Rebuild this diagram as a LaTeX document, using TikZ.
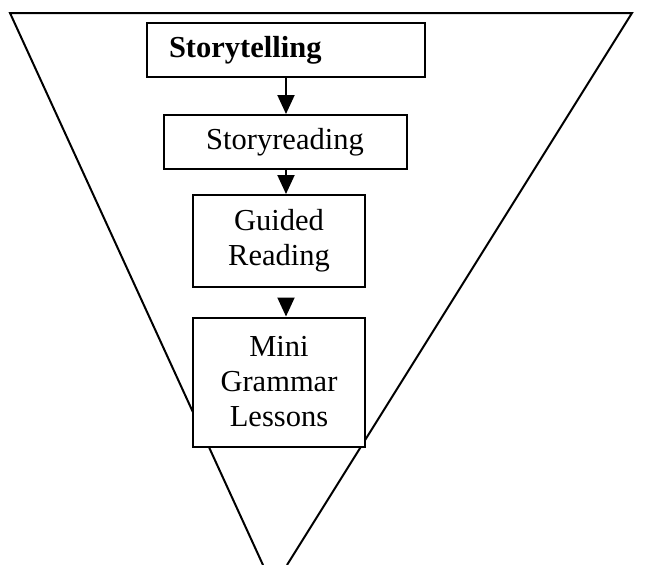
\documentclass[tikz,border=0pt]{standalone}
\usepackage{fontspec}
\setmainfont{Liberation Serif}
\usetikzlibrary{arrows.meta}

\begin{document}
\begin{tikzpicture}[x=1pt, y=-1pt,
    stage/.style={draw, line width=2pt, fill=white, align=center, inner sep=0pt,
        font=\fontsize{30.5}{35}\selectfont},
    flow/.style={line width=2pt, -{Triangle[width=17pt,length=19pt]}}]
    \useasboundingbox (0,0) rectangle (665,565);

    % The funnel (tip runs off the page)
    \draw[line width=2pt] (263,565) -- (10,13) -- (632,13) -- (287,565);

    % The stages
    \node[stage, minimum width=278pt, minimum height=54pt, text width=256pt, align=left]
        (tell) at (286,50) {\hspace*{11pt}\bfseries Storytelling};
    \node[stage, minimum width=243pt, minimum height=54pt] (read) at (285,142) {Storyreading};
    \node[stage, minimum width=172pt, minimum height=92pt] (guide) at (279,241) {Guided\\Reading};
    \node[stage, minimum width=172pt, minimum height=129pt] (mini) at (279,382) {Mini\\Grammar\\Lessons};

    % Arrows between stages
    \coordinate (ax) at (286,0);
    \draw[flow] (tell.south -| ax) -- (read.north -| ax);
    \draw[flow] (read.south -| ax) -- (guide.north -| ax);
    \draw[flow, shorten <=10pt] (guide.south -| ax) -- (mini.north -| ax);
\end{tikzpicture}
\end{document}
